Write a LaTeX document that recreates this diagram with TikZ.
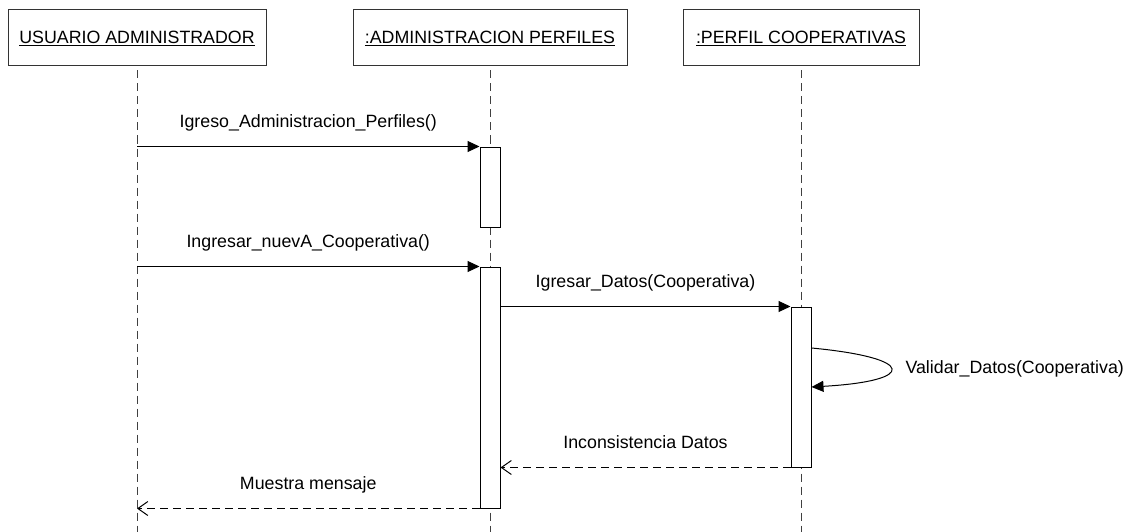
\documentclass[tikz,border=0pt]{standalone}
\usepackage{fontspec}
\setmainfont{Liberation Sans}
\usetikzlibrary{arrows.meta}
\begin{document}
\begin{tikzpicture}[x=1pt,y=-1pt, font=\fontsize{17.8}{21}\selectfont,
  obj/.style={draw=black!80, line width=1pt, minimum height=56pt, inner sep=0pt},
  life/.style={draw=black!75, line width=1pt, dash pattern=on 8pt off 5pt},
  act/.style={draw=black, fill=white, line width=1pt, minimum width=20pt, inner sep=0pt},
  call/.style={draw=black, line width=1pt, -{Triangle[length=12pt,width=11pt]}},
  ret/.style={draw=black, line width=1pt, dash pattern=on 8pt off 5pt, -{Straight Barb[length=10pt,width=14pt]}},
  lbl/.style={midway, anchor=base, yshift=19pt}]
\useasboundingbox (0,0) rectangle (1129,532);
\coordinate (bottom) at (0,532);
% objects
\node[obj, minimum width=258pt] (u) at (137,38) {\underline{USUARIO ADMINISTRADOR}};
\node[obj, minimum width=274pt] (ap) at (490,38) {\underline{:ADMINISTRACION PERFILES}};
\node[obj, minimum width=236pt] (pc) at (801,38) {\underline{:PERFIL COOPERATIVAS}};
% lifelines
\draw[life] ([yshift=-4pt]u.south) -- (u.south |- bottom);
\draw[life] ([yshift=-4pt]ap.south) -- (ap.south |- bottom);
\draw[life] ([yshift=-4pt]pc.south) -- (pc.south |- bottom);
% activations
\node[act, minimum height=80pt] (a1) at (490,187) {};
\node[act, minimum height=241pt] (a2) at (490,387.5) {};
\node[act, minimum height=160pt] (a3) at (801,387) {};
% messages
\draw[call] (u |- a1.north) -- (a1.north west) node[lbl] (m1) {Igreso\_Administracion\_Perfiles()};
\draw[call] (u |- a2.north) -- (a2.north west) node[lbl] (m2) {Ingresar\_nuevA\_Cooperativa()};
\draw[call] (a2.north east |- a3.north) -- (a3.north west) node[lbl] (m3) {Igresar\_Datos(Cooperativa)};
\coordinate (s1) at (a3.east |- 0,348);
\coordinate (s2) at (a3.east |- 0,387);
\draw[call] (s1) .. controls (917,358) and (917,381) .. (s2);
\node[anchor=base west] (m4) at (902,373) {Validar\_Datos(Cooperativa)};
\draw[ret] (a3.south west) -- (a2.east |- a3.south) node[lbl] (m5) {Inconsistencia Datos};
\draw[ret] (a2.south west) -- (u |- a2.south) node[lbl] (m6) {Muestra mensaje};
\end{tikzpicture}
\end{document}
